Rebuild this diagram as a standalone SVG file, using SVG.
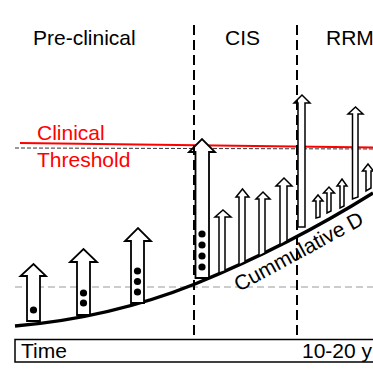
<svg xmlns="http://www.w3.org/2000/svg" width="373" height="373" viewBox="0 0 373 373">
<style>
text{font-family:"Liberation Sans",Arial,sans-serif;font-size:21px;fill:#000}
.red{fill:#f00}
.arr{fill:#fff;stroke:#000;stroke-width:1.8;stroke-linejoin:miter}
.thin{fill:#fff;stroke:#000;stroke-width:1.5}
.dot{fill:#000}
.vd{stroke:#000;stroke-width:2;stroke-dasharray:10,5;fill:none}
</style>
<rect width="373" height="373" fill="#fff"/>
<g id="labels">
<text x="33" y="45" font-size="21.5">Pre-clinical</text>
<text x="225" y="45">CIS</text>
<text x="326" y="45" font-size="20.5">RRM</text>
<text class="red" x="37" y="140">Clinical</text>
<text class="red" x="37" y="166.5">Threshold</text>
</g>
<g id="connectors">
<line x1="15" y1="148" x2="373" y2="149" stroke="#333" stroke-width="1" stroke-dasharray="4,2"/>
<line x1="20" y1="143" x2="373" y2="147.5" stroke="#f00" stroke-width="2"/>
<line x1="15" y1="287" x2="373" y2="287" stroke="#999" stroke-width="1.2" stroke-dasharray="7,4"/>
<path d="M15,326 Q110,318 195,284 Q290,245 373,193" fill="none" stroke="#000" stroke-width="3.5"/>
</g>
<g id="arrow1">
<path class="arr" d="M27,321 L27,276 L20.5,276 L33.5,264 L46,276 L40,276 L40,321 Z"/>
<circle class="dot" cx="33.5" cy="310" r="3.6"/>
</g>
<g id="arrow2">
<path class="arr" d="M77,315 L77,262 L70,262 L83.5,249 L97,262 L90,262 L90,315 Z"/>
<circle class="dot" cx="83.5" cy="293" r="3.6"/>
<circle class="dot" cx="83.5" cy="303" r="3.6"/>
</g>
<g id="arrow3">
<path class="arr" d="M131,303 L131,241 L125,241 L138,228 L151,241 L144,241 L144,303 Z"/>
<circle class="dot" cx="137.5" cy="271" r="3.6"/>
<circle class="dot" cx="137.5" cy="281.5" r="3.6"/>
<circle class="dot" cx="137.5" cy="292" r="3.6"/>
</g>
<g id="arrow4">
<path class="arr" d="M195.5,278 L195.5,152 L189,152 L202,139 L215,152 L209,152 L209,278 Z"/>
<circle class="dot" cx="202" cy="234" r="3.6"/>
<circle class="dot" cx="202" cy="245" r="3.6"/>
<circle class="dot" cx="202" cy="256" r="3.6"/>
<circle class="dot" cx="202" cy="267" r="3.6"/>
</g>
<g id="arrow5"><path class="thin" d="M219,273 L219,217 L215,217 L223,210 L231,217 L225,217 L225,271 Z"/></g>
<g id="arrow6"><path class="thin" d="M239,265 L239,197 L236,197 L242.5,189 L249,197 L245,197 L245,262 Z"/></g>
<g id="arrow7"><path class="thin" d="M259,256 L259,199 L256,199 L263,192 L270,199 L265,199 L265,253 Z"/></g>
<g id="arrow8"><path class="thin" d="M280,245 L280,186 L276,186 L284,178 L292,186 L287,186 L287,241 Z"/></g>
<g id="arrow9"><path class="thin" d="M298,227 L298,103 L294,103 L302,95 L310,103 L305,103 L305,227 Z"/></g>
<g id="arrow10"><path class="thin" d="M316,218 L316,201 L313,201 L318,195 L323,201 L320,201 L320,217 Z"/></g>
<g id="arrow11"><path class="thin" d="M327,213 L327,193 L323.5,193 L329,187 L334.5,193 L331,193 L331,211 Z"/></g>
<g id="arrow12"><path class="thin" d="M340,208 L340,186 L337,186 L342,179 L347,186 L344,186 L344,206 Z"/></g>
<g id="arrow13"><path class="thin" d="M352.5,199 L352.5,114 L348,114 L355.5,107 L363,114 L358,114 L358,197 Z"/></g>
<g id="arrow14"><path class="thin" d="M366,191 L366,171 L362.5,171 L368,164 L373.5,171 L371,171 L371,188 Z"/></g>
<g id="dividers">
<line class="vd" x1="194" y1="25" x2="194" y2="339"/>
<line class="vd" x1="297" y1="25" x2="297" y2="339"/>
</g>
<text x="239" y="292" font-size="22" transform="rotate(-28.5 239 292)">Cummulative D</text>
<g id="timeline">
<rect x="15" y="339.5" width="370" height="22.5" fill="none" stroke="#000" stroke-width="1.5"/>
<text x="21" y="358">Time</text>
<text x="302" y="358">10-20 y</text>
</g>
</svg>
